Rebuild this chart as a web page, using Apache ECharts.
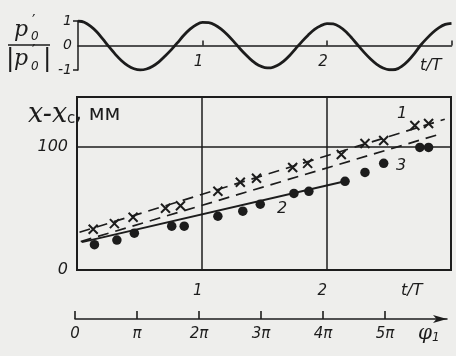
<!DOCTYPE html>
<html><head><meta charset="utf-8">
<script src="https://cdn.jsdelivr.net/npm/echarts@6/dist/echarts.min.js"></script>
<style>html,body{margin:0;padding:0;background:#eeeeec}#c{width:456px;height:356px}</style>
</head><body><div id="c"></div>
<script>
// ---- data ----
const waveT = [0,0.05,0.1,0.15,0.2,0.25,0.3,0.35,0.4,0.45,0.5,0.55,0.6,0.65,0.7,0.75,0.8,0.85,0.9,0.95,
  1.0,1.05,1.1,1.15,1.2,1.25,1.3,1.35,1.4,1.45,1.5,1.55,1.6,1.65,1.7,1.75,1.8,1.85,1.9,1.95,
  2.0,2.05,2.1,2.15,2.2,2.25,2.3,2.35,2.4,2.45,2.5,2.55,2.6,2.65,2.7,2.75,2.8,2.85,2.9,2.95,3.0];
const waveV = [1.0,0.95,0.79,0.56,0.26,-0.06,-0.36,-0.62,-0.82,-0.95,-1.0,-0.96,-0.85,-0.67,-0.43,-0.17,0.12,0.42,0.67,0.85,
  0.94,0.93,0.84,0.67,0.44,0.17,-0.12,-0.39,-0.63,-0.81,-0.9,-0.91,-0.82,-0.65,-0.41,-0.12,0.17,0.43,0.66,0.81,
  0.89,0.88,0.77,0.57,0.3,0.0,-0.29,-0.55,-0.77,-0.92,-0.99,-0.98,-0.85,-0.63,-0.34,0.0,0.28,0.53,0.73,0.86,0.9];

const crossT = [0.13,0.30,0.45,0.71,0.83,1.13,1.31,1.44,1.73,1.85,2.12,2.31,2.46,2.71,2.82];
const crossV = [33,37.5,42.7,50,52,63.7,71,74.2,83,86.3,93.5,102.4,104.8,116.9,118.5];

const dotT = [0.14,0.32,0.46,0.76,0.86,1.13,1.33,1.47,1.74,1.86,2.15,2.31,2.46,2.75,2.82];
const dotV = [20.5,24.2,29.8,35.5,35.5,43.5,47.6,53.2,62,63.7,71.8,79,86.3,99.2,99.2];

const line1T = [0.02,2.95], line1V = [30.5,122];
const line2T = [0.04,2.15], line2V = [22.6,71.8];
const line3T = [0.03,2.93], line3V = [23,110.5];

const tLabels = [1,2];
const waveTicks = [-1,0,1];
const yLabels = [0,100];
const phiValues = [0,1,2,3,4,5];
const phiLabels = ['0','π','2π','3π','4π','5π'];

// ---- chart ----
const ink = '#1c1c1c';
const zip = (a,b) => a.map((v,i) => [v,b[i]]);
const numFont = {fontFamily:'DejaVu Sans', fontStyle:'italic', color:ink};
const chart = echarts.init(document.getElementById('c'));
chart.setOption({
  backgroundColor:'#eeeeec',
  animation:false,
  grid:[
    {left:78, top:21, width:373.5, height:49},
    {left:77, top:97, width:374, height:173, show:true, borderColor:ink, borderWidth:2, backgroundColor:'transparent'},
    {left:75, top:300, width:372, height:19}
  ],
  xAxis:[
    {gridIndex:0, type:'value', min:0, max:3, interval:1, position:'bottom', offset:-24.5,
     axisLine:{onZero:false, lineStyle:{color:ink, width:1.5}},
     axisTick:{inside:true, length:5, customValues:[1,2,3], lineStyle:{color:ink, width:1.5}},
     axisLabel:Object.assign({customValues:tLabels, margin:9, fontSize:15, padding:[0,8,0,0]}, numFont),
     splitLine:{show:false}},
    {gridIndex:1, type:'value', min:0, max:3, interval:1,
     axisLine:{show:false}, axisTick:{show:false},
     axisLabel:Object.assign({customValues:tLabels, margin:14, fontSize:15, padding:[0,8,0,0]}, numFont),
     splitLine:{show:true, lineStyle:{color:ink, width:1.5}}},
    {gridIndex:2, type:'value', min:0, max:6, interval:1, position:'bottom',
     axisLine:{show:true, onZero:false, symbol:['none','arrow'], symbolSize:[6,14], lineStyle:{color:ink, width:1.5}},
     axisTick:{show:true, inside:true, length:8, customValues:phiValues, lineStyle:{color:ink, width:1.6}},
     axisLabel:Object.assign({customValues:phiValues, margin:8, fontSize:15, formatter:v=>phiLabels[v]}, numFont),
     splitLine:{show:false}}
  ],
  yAxis:[
    {gridIndex:0, type:'value', min:-1, max:1, interval:1,
     axisLine:{show:true, onZero:false, lineStyle:{color:ink, width:1.5}},
     axisTick:{show:true, length:5, customValues:[-1,1], lineStyle:{color:ink, width:1.5}},
     axisLabel:Object.assign({customValues:waveTicks, margin:6, fontSize:14}, numFont),
     splitLine:{show:false}},
    {gridIndex:1, type:'value', min:0, max:140, interval:100,
     axisLine:{show:false}, axisTick:{show:false},
     axisLabel:Object.assign({customValues:yLabels, margin:9, fontSize:16}, numFont),
     splitLine:{show:true, lineStyle:{color:ink, width:1.5}}},
    {gridIndex:2, type:'value', min:0, max:1, show:false}
  ],
  series:[
    {type:'line', xAxisIndex:0, yAxisIndex:0, data:zip(waveT,waveV), smooth:0.3, showSymbol:false,
     lineStyle:{color:ink, width:2.8}},
    {type:'line', xAxisIndex:1, yAxisIndex:1, data:zip(line1T,line1V), showSymbol:false,
     lineStyle:{color:ink, width:1.7, type:[11,7]}},
    {type:'line', xAxisIndex:1, yAxisIndex:1, data:zip(line3T,line3V), showSymbol:false,
     lineStyle:{color:ink, width:1.7, type:[11,7]}},
    {type:'line', xAxisIndex:1, yAxisIndex:1, data:zip(line2T,line2V), showSymbol:false,
     lineStyle:{color:ink, width:1.9}},
    {type:'scatter', xAxisIndex:1, yAxisIndex:1, data:zip(crossT,crossV),
     symbol:'path://M0,0L10,10M10,0L0,10', symbolSize:9,
     itemStyle:{color:'transparent', borderColor:ink, borderWidth:2, opacity:1}},
    {type:'scatter', xAxisIndex:1, yAxisIndex:1, data:zip(dotT,dotV),
     symbol:'circle', symbolSize:9.5, itemStyle:{color:ink, opacity:1}}
  ],
  graphic:[
    // fraction p'0/|p'0|
    {type:'text', left:14, top:19, style:{text:'p', font:'italic 22px DejaVu Serif', fill:ink}},
    {type:'text', left:32, top:15, style:{text:'′', font:'15px DejaVu Sans', fill:ink}},
    {type:'text', left:31, top:31, style:{text:'0', font:'italic 12px DejaVu Sans', fill:ink}},
    {type:'line', shape:{x1:8, y1:45, x2:50, y2:45}, style:{stroke:ink, lineWidth:1.5}},
    {type:'text', left:6, top:47, style:{text:'|', font:'25px DejaVu Sans', fill:ink}},
    {type:'text', left:14, top:48, style:{text:'p', font:'italic 22px DejaVu Serif', fill:ink}},
    {type:'text', left:32, top:45, style:{text:'′', font:'15px DejaVu Sans', fill:ink}},
    {type:'text', left:31, top:61, style:{text:'0', font:'italic 12px DejaVu Sans', fill:ink}},
    {type:'text', left:43, top:47, style:{text:'|', font:'25px DejaVu Sans', fill:ink}},
    // top t/T
    {type:'text', left:420, top:58, style:{text:'t/T', font:'italic 16px DejaVu Sans', fill:ink}},
    // y title
    {type:'text', left:28, top:101, style:{text:'{i|x-x}{s|c}{n|, мм}', fill:ink,
      rich:{i:{font:'italic 27px DejaVu Serif', fill:ink}, s:{font:'15px DejaVu Sans', fill:ink, padding:[10,0,0,0]}, n:{font:'21px DejaVu Sans', fill:ink}}}},
    // curve numbers
    {type:'text', left:397, top:106, style:{text:'1', font:'italic 16px DejaVu Sans', fill:ink}},
    {type:'text', left:277, top:201, style:{text:'2', font:'italic 16px DejaVu Sans', fill:ink}},
    {type:'text', left:396, top:158, style:{text:'3', font:'italic 16px DejaVu Sans', fill:ink}},
    // bottom t/T
    {type:'text', left:401, top:283, style:{text:'t/T', font:'italic 16px DejaVu Sans', fill:ink}},
    // phi1
    {type:'text', left:418, top:324, style:{text:'{p|φ}{s|1}', fill:ink,
      rich:{p:{font:'italic 20px DejaVu Serif', fill:ink}, s:{font:'italic 12px DejaVu Sans', fill:ink, padding:[8,0,0,0]}}}}
  ]
});
</script>
</body></html>
